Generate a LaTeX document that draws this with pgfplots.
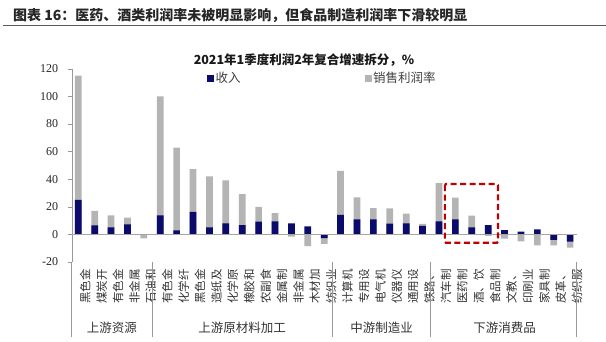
\documentclass[border=0pt]{standalone}
\usepackage{pgfplots}
\pgfplotsset{compat=1.18}
\usepackage{pgfplotstable}
\usepackage{fontspec}
\setmainfont{Liberation Serif}
\newfontfamily\cjk{Noto Sans CJK SC}
\definecolor{navyb}{HTML}{0B0B6B}
\definecolor{grayb}{HTML}{B4B4B4}
\definecolor{boxred}{HTML}{C00000}
\pgfplotstableread{
i  gray   inc
0  115    24.9
1  16.9   6.5
2  13.8   5
3  12     7.2
4  -2.9   0
5  100    13.8
6  62.8   2.9
7  47.3   16.2
8  42     5
9  39     8
10 29.2   6.7
11 19.8   9.1
12 15.4   9.4
13 -1.7   8
14 -8.5   5.8
15 -7     -2.7
16 46     14
17 26.8   10.9
18 19     10.9
19 18.8   7.7
20 15     8
21 7.5    6.2
22 37     9.4
23 26.5   10.9
24 13.5   5
25 -1.2   6.7
26 -3.2   3.1
27 -5.1   1.9
28 -8     3.6
29 -8     -4.1
30 -9.7   -5.3
}\datatab
\begin{document}
\begin{tikzpicture}
\begin{axis}[
  at={(71.7pt,-261.9pt)}, anchor=south west,
  scale only axis, width=505pt, height=193.2pt,
  xmin=-0.4, xmax=30.4, ymin=-20, ymax=120,
  clip=false,
  axis x line*=bottom, axis y line*=left,
  x axis line style={draw=none},
  y axis line style={draw=gray!80},
  ytick={-20,0,...,120},
  ytick pos=left, tick align=outside,
  major tick length=4pt,
  ytick style={draw=gray!80},
  xtick style={draw=none},
  xtick={0,...,30},
  xticklabels={黑色金,煤炭开,有色金,非金属,石油和,有色金,化学纤,黑色金,造纸及,化学原,橡胶和,农副食,金属制,非金属,木材加,纺织业,计算机,专用设,电气机,仪器仪,通用设,铁路、,汽车制,医药制,酒、饮,食品制,文教、,印刷业,家具制,皮革、,纺织服},
  xticklabel style={rotate=90, anchor=east, font=\cjk\fontsize{11.5}{12}\selectfont, yshift=-7pt, text=black!80},
  yticklabel style={font=\fontsize{12}{13}\selectfont, text=black!85, xshift=-6pt},
  /pgf/number format/assume math mode=true,
  ybar, bar width=6.7pt, bar shift=0pt,
  legend style={at={(0.262,0.952)}, anchor=west, draw=none, fill=none,
    font=\cjk\fontsize{12.5}{13}\selectfont, text=black!75,
    /tikz/every even column/.append style={column sep=122pt}},
  legend columns=2,
  legend image code/.code={\fill[#1] (0pt,-3pt) rectangle (6pt,3pt);},
]
\addlegendimage{navyb, fill=navyb}
\addlegendentry{收入}
\addlegendimage{grayb, fill=grayb}
\addlegendentry{销售利润率}
\addplot[draw=none, fill=grayb, forget plot] table[x=i, y=gray] {\datatab};
\addplot[draw=none, fill=navyb, forget plot] table[x=i, y=inc] {\datatab};
\draw[gray!70, line width=0.8pt] (axis cs:-0.4,0) -- (axis cs:30.4,0);
\draw[boxred, line width=2.2pt, dash pattern=on 6pt off 3.5pt, rounded corners=1pt]
  (axis cs:22.36,36.4) rectangle (axis cs:25.6,-6.1);
\draw[gray!80, line width=0.6pt] (axis cs:-0.4,-20) -- (axis cs:-0.4,-74.2);
\draw[gray!80, line width=0.6pt] (axis cs:4.5,-20) -- (axis cs:4.5,-74.2);
\draw[gray!80, line width=0.6pt] (axis cs:15.5,-20) -- (axis cs:15.5,-74.2);
\draw[gray!80, line width=0.6pt] (axis cs:21.5,-20) -- (axis cs:21.5,-74.2);
\draw[gray!80, line width=0.6pt] (axis cs:30.4,-20) -- (axis cs:30.4,-74.2);
\node[font=\cjk\fontsize{12.5}{13}\selectfont, text=black!80] at (axis cs:2.05,-67.9) {上游资源};
\node[font=\cjk\fontsize{12.5}{13}\selectfont, text=black!80] at (axis cs:10,-67.9) {上游原材料加工};
\node[font=\cjk\fontsize{12.5}{13}\selectfont, text=black!80] at (axis cs:18.5,-67.9) {中游制造业};
\node[font=\cjk\fontsize{12.5}{13}\selectfont, text=black!80] at (axis cs:26,-67.9) {下游消费品};
\end{axis}
\node[anchor=west, font=\cjk\bfseries\fontsize{14}{15}\selectfont, text=black!85, inner sep=0pt] at (13pt,-15.5pt) {图表 16：医药、酒类利润率未被明显影响，但食品制造利润率下滑较明显};
\draw[black!65, line width=1.2pt] (3pt,-25.5pt) -- (606pt,-25.5pt);
\node[font=\cjk\bfseries\fontsize{12.5}{13}\selectfont, text=black!90, inner sep=0pt] at (304pt,-60pt) {2021年1季度利润2年复合增速拆分，\%};
\pgfresetboundingbox
\useasboundingbox (0pt,0pt) rectangle (606pt,-341pt);
\end{tikzpicture}
\end{document}
